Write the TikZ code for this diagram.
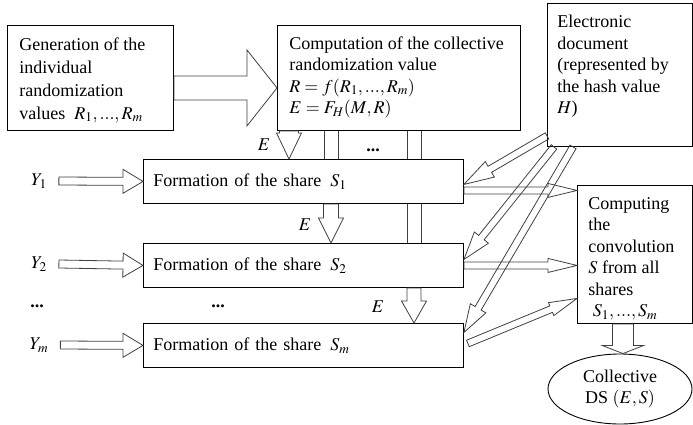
\documentclass[tikz,border=0pt]{standalone}
\usepackage{mathptmx}
\usepackage{fontspec}
\setmainfont{Liberation Serif}
\usetikzlibrary{calc,shapes.geometric}

\tikzset{
  box/.style={draw, line width=0.9pt, anchor=north west, inner xsep=12pt, inner ysep=12pt},
  sharebox/.style={draw, line width=0.9pt, anchor=north west, text width=300pt,
    minimum height=44pt, inner xsep=10pt, align=left},
  arrowline/.style={draw=black!75, line width=0.8pt},
  lbl/.style={inner sep=2pt},
}
\newcommand\boxtext[3]{\parbox[t][#2][t]{#1}{\raggedright #3}}
% hollow arrow: [opts]{from}{to}{shaft half}{head half}{head length}
\newcommand\hollowarrow[6][]{%
  \coordinate (ha-s) at (#2);
  \coordinate (ha-e) at (#3);
  \coordinate (ha-h) at ($(ha-e)!#6!(ha-s)$);
  \draw[arrowline,#1]
    ($(ha-s)!#4!90:(ha-e)$) -- ($(ha-h)!#4!-90:(ha-s)$)
    -- ($(ha-h)!#5!-90:(ha-s)$) -- (ha-e)
    -- ($(ha-h)!#5!90:(ha-s)$) -- ($(ha-h)!#4!90:(ha-s)$)
    -- ($(ha-s)!#4!-90:(ha-e)$) -- cycle;
}
\newcommand\channel[2]{%
  \draw[arrowline] ($(#1)+(-7,0)$) -- ($(#2)+(-7,0)$) ($(#1)+(7,0)$) -- ($(#2)+(7,0)$);
}

\begin{document}
\begin{tikzpicture}[x=1pt, y=-1pt, font=\fontsize{18}{21.5}\selectfont]
  \useasboundingbox (0,0) rectangle (693,425);

  % boxes
  \node[box] (gen) at (7,25) {\boxtext{142pt}{81pt}{Generation of the\\[1.5pt]
    individual\\[1.5pt] randomization\\[1.5pt] values\enspace$R_1,...,R_m$}};
  \node[box, inner ysep=11pt] (comp) at (277,25) {\boxtext{219pt}{83pt}{Computation of the collective\\
    randomization value\\ $R=f(R_1,...,R_m)$\\ $E=F_H(M,R)$}};
  \node[box, inner xsep=10pt] (doc) at (547,3) {\boxtext{125pt}{119pt}{Electronic\\
    document\\ (represented by\\ the hash value\\ $H$)}};
  \node[box, inner xsep=11pt] (conv) at (577,185) {\boxtext{93pt}{114pt}{Computing\\
    the\\ convolution\\ $S$ from all\\ shares\\ \ $S_1,...,S_m$}};
  \node[draw, line width=0.9pt, ellipse, minimum width=144pt, minimum height=70pt,
    align=center, inner sep=0pt] (ds) at (620,389) {Collective\\ DS $\mathbf{(}E,S\mathbf{)}$};

  \node[sharebox] (s1) at (143,159) {Formation of the share\enspace$S_1$};
  \node[sharebox] (s2) at (143,243) {Formation of the share\enspace$S_2$};
  \node[sharebox] (sm) at (143,323) {Formation of the share\enspace$S_m$};

  \node[lbl] (y1) at (39,181) {$Y_1$};
  \node[lbl] (y2) at (39,264) {$Y_2$};
  \node[lbl] (ym) at (39,345) {$Y_m$};

  \node[lbl] (dots1) at (373,150) {\textbf{...}};
  \node[lbl] (dots2) at (37,306) {\textbf{...}};
  \node[lbl] (dots3) at (218,306) {\textbf{...}};

  \node[lbl] (e1) at (264,145) {$E$};
  \node[lbl] (e2) at (305,225) {$E$};
  \node[lbl] (e3) at (378,307) {$E$};

  % big arrow
  \hollowarrow{$(gen.east)+(0,10)$}{$(comp.west)+(0,10)$}{12pt}{38pt}{30pt}

  % inputs Y
  \hollowarrow{$(y1.east)+(10,0)$}{s1.west}{4pt}{12pt}{20pt}
  \hollowarrow{$(y2.east)+(10,0)$}{s2.west}{4pt}{12pt}{20pt}
  \hollowarrow{$(ym.east)+(10,0)$}{sm.west}{4pt}{12pt}{20pt}

  % E channels
  \coordinate (ea) at ($(comp.south west)+(12,0)$);
  \coordinate (ch1) at ($(comp.south west)+(54,0)$);
  \coordinate (ch2) at ($(comp.south west)+(137,0)$);
  \hollowarrow{ea}{ea |- s1.north}{9.5pt}{12.5pt}{26pt}
  \channel{ch1}{ch1 |- s1.north}
  \hollowarrow{ch1 |- s1.south}{ch1 |- s2.north}{7.5pt}{12.5pt}{25pt}
  \channel{ch2}{ch2 |- s1.north}
  \channel{ch2 |- s1.south}{ch2 |- s2.north}
  \hollowarrow{ch2 |- s2.south}{ch2 |- sm.north}{7pt}{12.5pt}{22pt}

  % document to shares
  \hollowarrow{$(doc.south west)+(0,-11)$}{$(s1.east)+(0,3)$}{3.5pt}{9pt}{30pt}
  \hollowarrow{$(doc.south west)+(7,0)$}{$(s2.east)+(0,-6)$}{3.5pt}{9pt}{28pt}
  \hollowarrow{$(doc.south west)+(26,0)$}{$(sm.east)+(0,-13)$}{3.5pt}{9pt}{28pt}

  % shares to convolution
  \hollowarrow{$(s1.east)+(0,9)$}{$(conv.west |- s1.east)+(0,9)$}{3.5pt}{7pt}{29pt}
  \hollowarrow{s2.east}{conv.west |- s2.east}{3.5pt}{7pt}{29pt}
  \hollowarrow{$(sm.east)+(4,-2)$}{$(conv.west)+(0,44)$}{3.5pt}{7pt}{28pt}

  % result
  \coordinate (dsa) at ($(conv.south)+(-12,0)$);
  \hollowarrow{dsa}{dsa |- ds.north}{10.5pt}{20.5pt}{8pt}
\end{tikzpicture}
\end{document}
